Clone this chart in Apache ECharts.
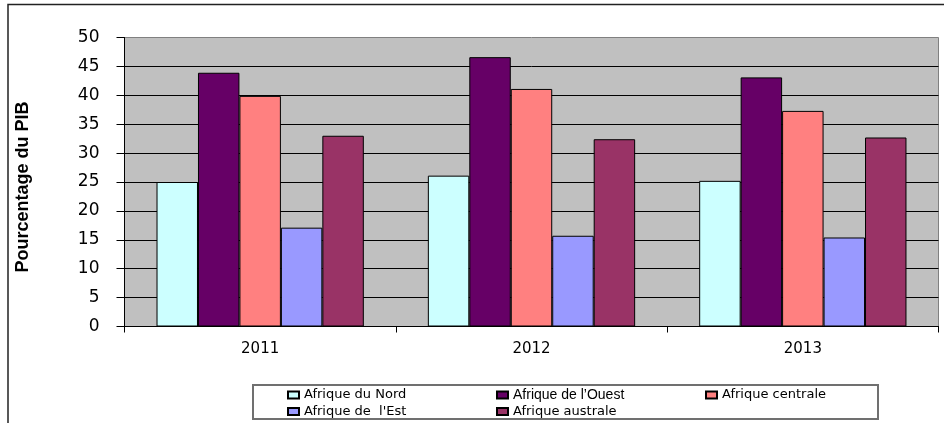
<!DOCTYPE html>
<html>
<head>
<meta charset="utf-8">
<script src="https://cdn.jsdelivr.net/npm/echarts@6/dist/echarts.min.js"></script>
<style>
html,body{margin:0;padding:0;background:#fff;}
#chart{width:944px;height:423px;}
</style>
</head>
<body>
<div id="chart"></div>
<script>
// Data
const categories = ['2011', '2012', '2013'];
const seriesNames = ['Afrique du Nord', 'Afrique de l’Ouest', 'Afrique centrale', 'Afrique de  l\'Est', 'Afrique australe'];
const nord = [25.0, 26.1, 25.2];
const ouest = [43.9, 46.6, 43.1];
const centrale = [39.9, 41.1, 37.3];
const est = [17.1, 15.7, 15.4];
const australe = [33.0, 32.4, 32.7];
const yTicks = [0, 5, 10, 15, 20, 25, 30, 35, 40, 45, 50];
const yTitle = 'Pourcentage du PIB';

const colors = ['#CCFFFF', '#660066', '#FF8080', '#9999FF', '#993366'];
const values = [nord, ouest, centrale, est, australe];
const WIDE = "'DejaVu Sans', sans-serif";
const ARIAL = "'Liberation Sans', Arial, sans-serif";

const chart = echarts.init(document.getElementById('chart'), null, {renderer: 'canvas'});

const legendCommon = {
  orient: 'horizontal',
  left: 287,
  padding: 0,
  itemWidth: 11,
  itemHeight: 7,
  itemGap: 10,
  icon: 'rect',
  selectedMode: false,
  textStyle: {fontFamily: WIDE, fontSize: 13, color: '#000', width: 182, lineHeight: 16}
};

const option = {
  animation: false,
  backgroundColor: '#fff',
  color: colors,
  grid: {
    left: 124.5, right: 5.5, top: 37.5, bottom: 96.5,
    show: true, backgroundColor: '#c0c0c0', borderColor: '#808080', borderWidth: 1,
    containLabel: false
  },
  xAxis: {
    type: 'category',
    data: categories,
    boundaryGap: true,
    axisLine: {show: true, lineStyle: {color: '#000', width: 1}},
    axisTick: {show: true, alignWithLabel: false, length: 6, lineStyle: {color: '#000'}},
    axisLabel: {fontFamily: WIDE, fontSize: 15, color: '#000', margin: 15},
    splitLine: {show: false}
  },
  yAxis: {
    type: 'value',
    min: yTicks[0], max: yTicks[yTicks.length - 1], interval: 5,
    name: yTitle,
    nameLocation: 'middle',
    nameGap: 92,
    nameRotate: 90,
    nameTextStyle: {fontFamily: ARIAL, fontSize: 18, fontWeight: 'bold', color: '#000', padding: [0, 10, 0, 0]},
    axisLine: {show: true, lineStyle: {color: '#000', width: 1}},
    axisTick: {show: true, inside: false, length: 8, lineStyle: {color: '#000'}},
    axisLabel: {fontFamily: WIDE, fontSize: 17, color: '#000', margin: 25},
    splitLine: {show: true, showMaxLine: false, lineStyle: {color: '#000', width: 1}}
  },
  legend: [
    Object.assign({}, legendCommon, {
      top: 387,
      data: [
        {name: seriesNames[0]},
        {name: seriesNames[1], textStyle: {fontFamily: ARIAL, fontSize: 14}},
        {name: seriesNames[2]}
      ]
    }),
    Object.assign({}, legendCommon, {
      top: 403.5,
      data: [{name: seriesNames[3]}, {name: seriesNames[4]}]
    })
  ],
  graphic: [
    {type: 'rect', silent: true, z: -1,
      shape: {x: 8, y: 4.5, width: 1000, height: 1000},
      style: {fill: null, stroke: '#222', lineWidth: 1.5}},
    {type: 'rect', silent: true, z: -1,
      shape: {x: 253, y: 385, width: 625, height: 34},
      style: {fill: '#fff', stroke: '#707070', lineWidth: 2}}
  ],
  series: seriesNames.map((name, i) => ({
    name: name,
    type: 'bar',
    data: values[i],
    barGap: '0%',
    barCategoryGap: '23.6%',
    itemStyle: {color: colors[i], borderColor: '#000', borderWidth: 1},
    emphasis: {disabled: true}
  }))
};

chart.setOption(option);
</script>
</body>
</html>
